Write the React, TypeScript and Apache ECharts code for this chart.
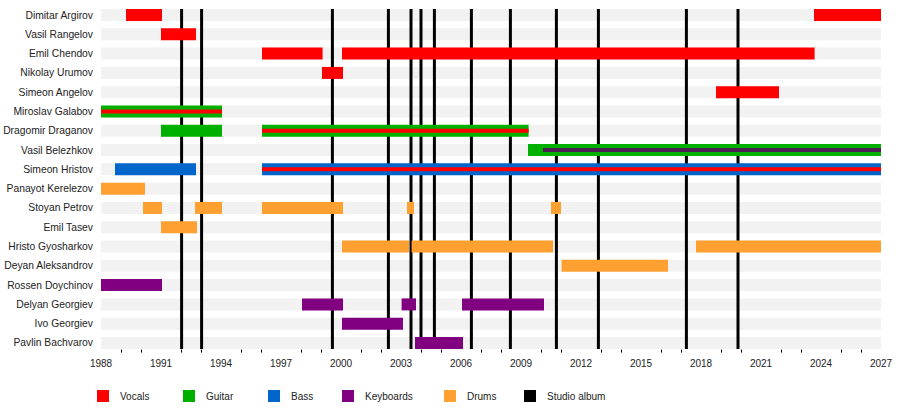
import React, { useEffect, useRef } from 'react';
import * as echarts from 'echarts';

const members = [
  'Dimitar Argirov',
  'Vasil Rangelov',
  'Emil Chendov',
  'Nikolay Urumov',
  'Simeon Angelov',
  'Miroslav Galabov',
  'Dragomir Draganov',
  'Vasil Belezhkov',
  'Simeon Hristov',
  'Panayot Kerelezov',
  'Stoyan Petrov',
  'Emil Tasev',
  'Hristo Gyosharkov',
  'Deyan Aleksandrov',
  'Rossen Doychinov',
  'Delyan Georgiev',
  'Ivo Georgiev',
  'Pavlin Bachvarov',
];

type Period = [string, number, number];

const vocals: Period[] = [
  ['Dimitar Argirov', 1989.25, 1991.05],
  ['Dimitar Argirov', 2023.65, 2027],
  ['Vasil Rangelov', 1991.0, 1992.75],
  ['Emil Chendov', 1996.05, 1999.08],
  ['Emil Chendov', 2000.05, 2023.68],
  ['Nikolay Urumov', 1999.05, 2000.1],
  ['Simeon Angelov', 2018.75, 2021.9],
];

const guitar: Period[] = [
  ['Miroslav Galabov', 1988, 1994.05],
  ['Dragomir Draganov', 1991.0, 1994.05],
  ['Dragomir Draganov', 1996.05, 2009.38],
  ['Vasil Belezhkov', 2009.35, 2027],
];

const bass: Period[] = [
  ['Simeon Hristov', 1988.7, 1992.75],
  ['Simeon Hristov', 1996.05, 2027],
];

const keyboards: Period[] = [
  ['Rossen Doychinov', 1988, 1991.05],
  ['Delyan Georgiev', 1998.05, 2000.1],
  ['Delyan Georgiev', 2003.03, 2003.75],
  ['Delyan Georgiev', 2006.05, 2010.15],
  ['Ivo Georgiev', 2000.05, 2003.1],
  ['Pavlin Bachvarov', 2003.7, 2006.1],
];

const drums: Period[] = [
  ['Panayot Kerelezov', 1988, 1990.2],
  ['Stoyan Petrov', 1990.1, 1991.05],
  ['Stoyan Petrov', 1992.7, 1994.05],
  ['Stoyan Petrov', 1996.05, 2000.1],
  ['Stoyan Petrov', 2003.3, 2003.65],
  ['Stoyan Petrov', 2010.5, 2011.0],
  ['Emil Tasev', 1991.0, 1992.8],
  ['Hristo Gyosharkov', 2000.05, 2003.4],
  ['Hristo Gyosharkov', 2003.53, 2010.6],
  ['Hristo Gyosharkov', 2017.75, 2027],
  ['Deyan Aleksandrov', 2011.03, 2016.35],
];

// secondary roles, drawn as a thin stripe inside the main bar
const vocalsStripes: Period[] = [
  ['Miroslav Galabov', 1988, 1994.05],
  ['Dragomir Draganov', 1996.05, 2009.38],
  ['Simeon Hristov', 1996.05, 2027],
];

const keyboardsStripes: Period[] = [['Vasil Belezhkov', 2010.1, 2027]];

const studioAlbums = [
  1992.03, 1993.03, 1999.57, 2002.37, 2003.5, 2004.0, 2004.67, 2006.52,
  2008.47, 2010.77, 2012.87, 2017.27, 2019.85,
];

const legendNames = ['Vocals', 'Guitar', 'Bass', 'Keyboards', 'Drums', 'Studio album'];
const legendLeft = [97, 183, 268, 342, 444, 524];

const COLORS: Record<string, string> = {
  Vocals: '#ff0000',
  Guitar: '#00b000',
  Bass: '#0066cc',
  Keyboards: '#800080',
  Drums: '#ffa030',
  'Studio album': '#000000',
};

const FONT = "'Liberation Sans', Arial, sans-serif";

const toRows = (list: Period[]) =>
  list.map(([name, start, end]) => [members.indexOf(name), start, end]);

const renderBar = (h: number) => (params: any, api: any) => {
  const row = api.value(0);
  const a = api.coord([api.value(1), row]);
  const b = api.coord([api.value(2), row]);
  return {
    type: 'rect',
    shape: { x: a[0], y: a[1] - h / 2, width: b[0] - a[0], height: h },
    style: { fill: api.visual('color') },
  };
};

const barSeries = (name: string, list: Period[], h: number, z: number, color?: string) => ({
  type: 'custom',
  name,
  z,
  itemStyle: { color: color || COLORS[name] },
  renderItem: renderBar(h),
  encode: { x: [1, 2], y: 0 },
  data: toRows(list),
  silent: true,
});

const App: React.FC = () => {
  const chartRef = useRef<HTMLDivElement>(null);

  useEffect(() => {
    if (!chartRef.current) return;
    const chart = echarts.init(chartRef.current, null, { renderer: 'svg' });

    const option: any = {
      animation: false,
      textStyle: { fontFamily: FONT },
      grid: { left: 101, right: 19, top: 5.4, bottom: 55.4 },
      legend: legendNames.map((name, i) => ({
        data: [name],
        left: legendLeft[i],
        top: 390,
        padding: 0,
        itemWidth: 12,
        itemHeight: 12,
        icon: 'rect',
        selectedMode: false,
        textStyle: { fontSize: 10, color: '#222', fontFamily: FONT, padding: [0, 0, 0, 6] },
      })),
      xAxis: {
        type: 'value',
        min: 1988,
        max: 2027,
        interval: 3,
        offset: -3,
        axisLine: { lineStyle: { color: '#000', width: 1 } },
        axisTick: { length: 5, lineStyle: { color: '#000' } },
        minorTick: { show: true, splitNumber: 3, length: 3, lineStyle: { color: '#000' } },
        splitLine: { show: false },
        axisLabel: {
          fontSize: 10,
          color: '#222',
          margin: 9,
          fontFamily: FONT,
          formatter: (v: number) => String(v),
        },
      },
      yAxis: {
        type: 'category',
        data: members,
        inverse: true,
        axisLine: { show: false },
        axisTick: { show: false },
        splitLine: { show: false },
        axisLabel: { fontSize: 10.3, color: '#222', margin: 8, fontFamily: FONT },
      },
      series: [
        {
          type: 'custom',
          name: 'rows',
          z: 1,
          silent: true,
          encode: { y: 0 },
          data: members.map((_, i) => [i]),
          renderItem: (params: any, api: any) => {
            const cs = params.coordSys;
            const y = api.coord([1988, api.value(0)])[1];
            return {
              type: 'rect',
              shape: { x: cs.x, y: y - 6, width: cs.width, height: 12 },
              style: { fill: '#f2f2f2' },
            };
          },
        },
        {
          type: 'custom',
          name: 'Studio album',
          z: 2,
          silent: true,
          itemStyle: { color: COLORS['Studio album'] },
          encode: { x: 0 },
          data: studioAlbums.map((y) => [y]),
          renderItem: (params: any, api: any) => {
            const top = api.coord([api.value(0), 0]);
            const bottom = api.coord([api.value(0), members.length - 1]);
            return {
              type: 'line',
              shape: { x1: top[0], y1: top[1] - 6, x2: bottom[0], y2: bottom[1] + 6 },
              style: { stroke: '#000', lineWidth: 3 },
            };
          },
        },
        barSeries('Vocals', vocals, 12, 3),
        barSeries('Guitar', guitar, 12, 3),
        barSeries('Bass', bass, 12, 3),
        barSeries('Keyboards', keyboards, 12, 3),
        barSeries('Drums', drums, 12, 3),
        barSeries('Vocals', vocalsStripes, 4, 4),
        barSeries('Keyboards', keyboardsStripes, 4, 4, '#4a1e52'),
      ],
    };

    chart.setOption(option);

    return () => {
      chart.dispose();
    };
  }, []);

  return (
    <div
      ref={chartRef}
      style={{ position: 'fixed', left: 0, top: 0, width: 900, height: 408, background: '#fff' }}
    />
  );
};

export default App;
